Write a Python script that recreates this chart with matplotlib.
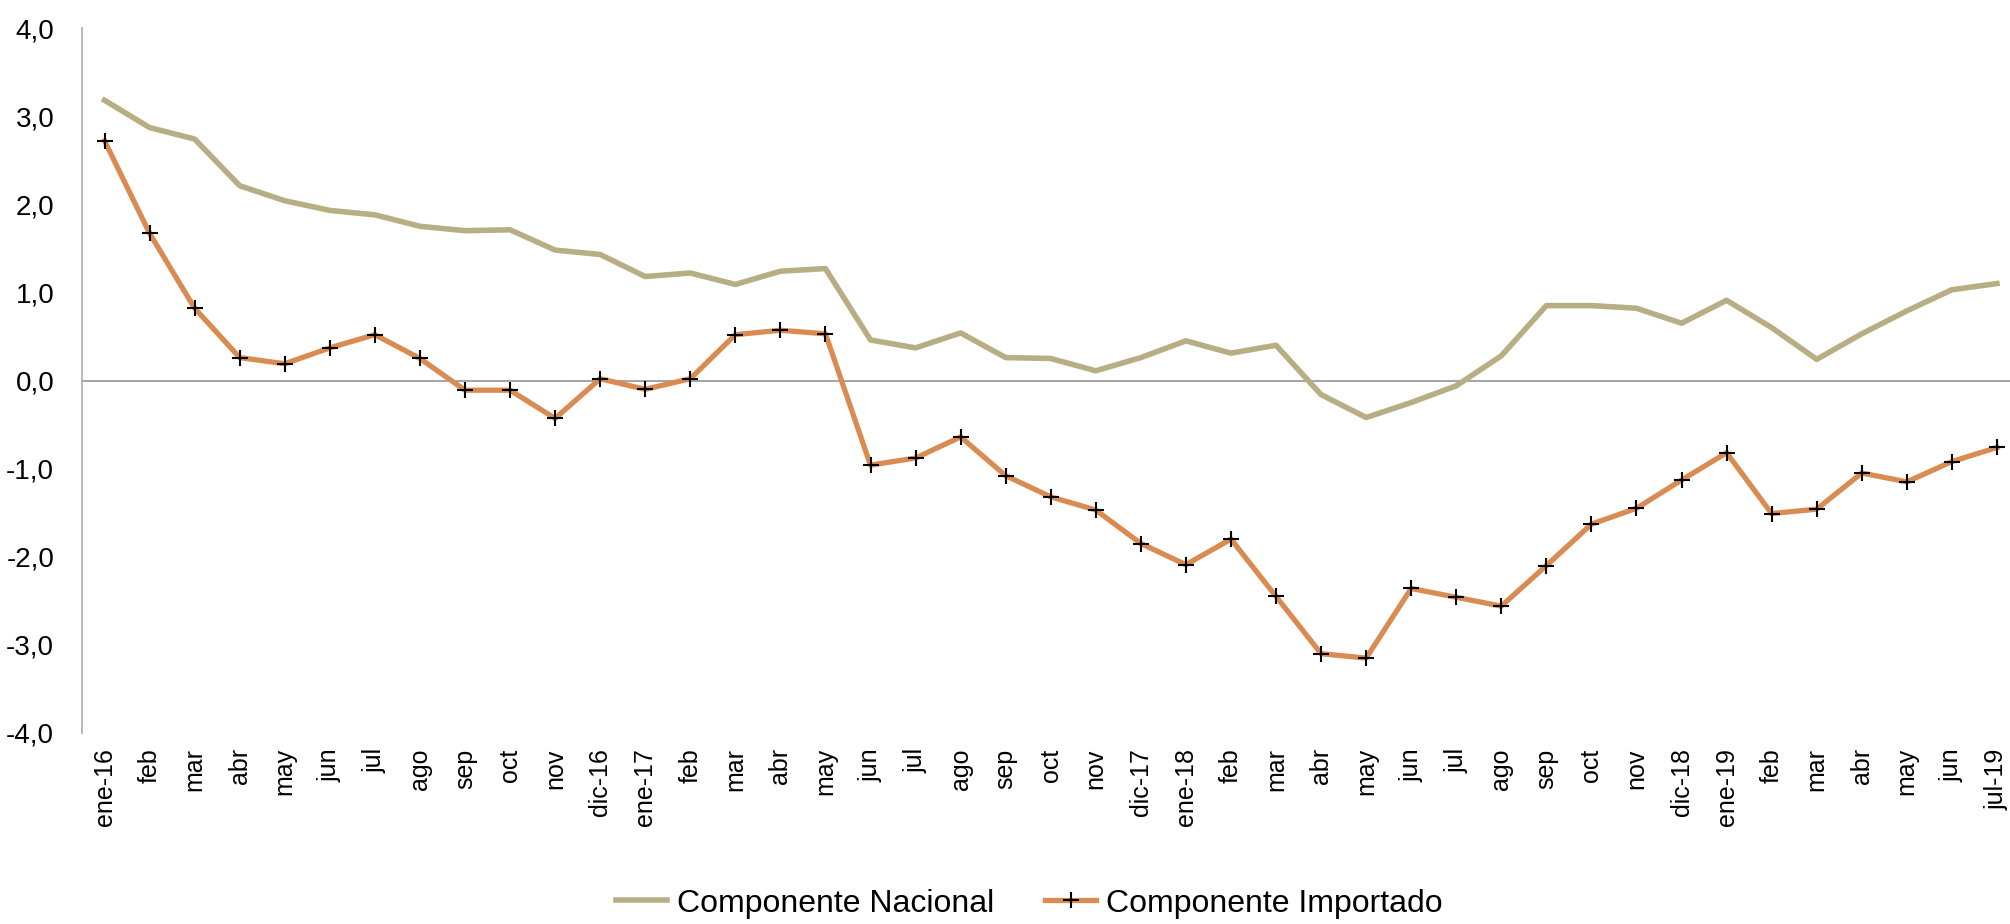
import matplotlib

matplotlib.use('Agg')
import matplotlib.pyplot as plt
import numpy as np

# month labels, ene-16 .. jul-19
labels = ['ene-16', 'feb', 'mar', 'abr', 'may', 'jun', 'jul', 'ago', 'sep', 'oct', 'nov', 'dic-16',
          'ene-17', 'feb', 'mar', 'abr', 'may', 'jun', 'jul', 'ago', 'sep', 'oct', 'nov', 'dic-17',
          'ene-18', 'feb', 'mar', 'abr', 'may', 'jun', 'jul', 'ago', 'sep', 'oct', 'nov', 'dic-18',
          'ene-19', 'feb', 'mar', 'abr', 'may', 'jun', 'jul-19']

nacional = [3.18, 2.87, 2.74, 2.21, 2.04, 1.93, 1.88, 1.75, 1.70, 1.71, 1.48, 1.43,
            1.18, 1.22, 1.09, 1.24, 1.27, 0.46, 0.37, 0.54, 0.26, 0.25, 0.11, 0.26,
            0.45, 0.31, 0.40, -0.16, -0.42, -0.25, -0.06, 0.28, 0.85, 0.85, 0.82, 0.65,
            0.91, 0.60, 0.24, 0.53, 0.79, 1.03, 1.10]

importado = [2.72, 1.67, 0.82, 0.26, 0.19, 0.37, 0.52, 0.25, -0.11, -0.11, -0.43, 0.02,
             -0.10, 0.02, 0.52, 0.57, 0.53, -0.96, -0.88, -0.64, -1.08, -1.32, -1.47, -1.85,
             -2.09, -1.80, -2.45, -3.10, -3.15, -2.36, -2.46, -2.56, -2.10, -1.63, -1.45, -1.13,
             -0.82, -1.51, -1.46, -1.05, -1.15, -0.92, -0.76]

plt.rcParams['font.family'] = ['Liberation Sans', 'DejaVu Sans']

fig = plt.figure(figsize=(20.10, 9.24), dpi=100)
ax = fig.add_axes([82 / 2010, 191 / 924, 1 - 82 / 2010, 705 / 924])

x = np.arange(len(labels))
ln1, = ax.plot(x, nacional, color='#B8AE84', lw=4.0, zorder=3)
ln2, = ax.plot(x, importado, color='#D98B52', lw=3.8, marker='+', markersize=12,
               markeredgecolor='black', markeredgewidth=1.5, zorder=4)

ax.axhline(0, color='#8C8C8C', lw=1.1, zorder=2)

ax.set_xlim(-0.5, 42.29)
ax.set_ylim(-4, 4)
yt = np.arange(-4, 5, 1)
ax.set_yticks(yt)
ax.set_yticklabels([('%.1f' % v).replace('.', ',') for v in yt], fontsize=20)
ax.set_xticks(x)
ax.set_xticklabels(labels, rotation=90, fontsize=18)
ax.tick_params(axis='y', length=0, pad=20)
ax.tick_params(axis='x', length=0, pad=11)

for s in ['top', 'right', 'bottom']:
    ax.spines[s].set_visible(False)
ax.spines['left'].set_color('#ABABAB')
ax.spines['left'].set_linewidth(1.2)

fig.legend([ln1, ln2], ['Componente Nacional', 'Componente Importado'],
           loc='center', bbox_to_anchor=(0.512, 0.022), ncol=2, frameon=False,
           prop={'size': 23}, handlelength=1.6, handletextpad=0.3, columnspacing=1.6)

fig.savefig('out.png', dpi=100)
plt.close()
